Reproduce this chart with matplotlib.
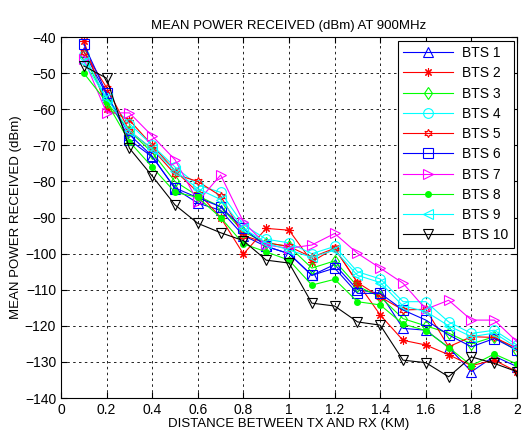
import matplotlib
matplotlib.use("Agg")
import matplotlib.pyplot as plt

plt.rcParams['font.family'] = ['Liberation Sans', 'DejaVu Sans']

distance_km = [0.1, 0.2, 0.3, 0.4, 0.5, 0.6, 0.7, 0.8, 0.9, 1.0,
               1.1, 1.2, 1.3, 1.4, 1.5, 1.6, 1.7, 1.8, 1.9, 2.0]

bts1 = [-44, -56, -67, -73, -82, -86, -88, -95, -98, -100,
        -106, -103, -110, -111, -120.7, -121.2, -126, -132.7, -128.4, -131.3]
bts2 = [-41, -60, -63, -70, -77, -83, -90, -100.1, -93, -93.5,
        -102.2, -98.5, -108, -117, -124, -125.3, -128, -131, -129.5, -132.7]
bts3 = [-45, -58, -66, -72, -80, -84, -87, -94, -97, -98,
        -104, -102, -109, -112, -118, -120, -122, -125, -123, -127]
bts4 = [-45, -57, -64, -70, -76, -81, -83, -92, -96, -97,
        -100, -98, -105, -107, -113.3, -113.3, -118.9, -122.1, -121.2, -125.3]
bts5 = [-44, -54, -66, -71, -78, -80, -84, -95, -97, -98,
        -101, -98.5, -108, -112, -115.6, -115.4, -125.8, -123, -123.2, -126.2]
bts6 = [-42, -55.6, -68.5, -73.2, -81.8, -84.5, -87, -93, -98, -100,
        -106, -104, -111, -111, -115.6, -118.4, -122.5, -125.8, -123.5, -126.7]
bts7 = [-46, -61, -61, -67.4, -74, -85.6, -78.2, -91.2, -97.6, -98.5,
        -97.6, -94.4, -99.9, -104, -108.2, -115.4, -112.9, -118.4, -118.4, -124.4]
bts8 = [-50, -58, -69, -76, -83, -84.4, -90, -97.3, -99.5, -101.8,
        -108.7, -107.1, -113.3, -114.2, -119.5, -121.3, -126, -131, -127.8, -130.6]
bts9 = [-47, -57, -66, -71, -77, -82, -85, -93, -97, -99,
        -101, -99, -106, -108, -114.5, -116, -120, -123, -122, -126]
bts10 = [-48, -51.4, -70.8, -78.5, -86.5, -91.6, -94.2, -96.4, -101.8, -102.6,
         -113.7, -114.5, -118.9, -119.8, -129.5, -130.2, -134.1, -128.6, -130.4, -132.7]

series_labels = ['BTS 1', 'BTS 2', 'BTS 3', 'BTS 4', 'BTS 5',
                 'BTS 6', 'BTS 7', 'BTS 8', 'BTS 9', 'BTS 10']
series_values = [bts1, bts2, bts3, bts4, bts5, bts6, bts7, bts8, bts9, bts10]
colors = ['#0000ff', '#ff0000', '#00ff00', '#00ffff', '#ff0000',
          '#0000ff', '#ff00ff', '#00ff00', '#00ffff', '#000000']
markers = ['^', (8, 2, 0), 'd', 'o', (6, 1, 0), 's', '>', '.', '<', 'v']
sizes = [7, 6, 6.5, 7, 6, 7, 7, 4, 7, 7]

x_ticks = [0, 0.2, 0.4, 0.6, 0.8, 1, 1.2, 1.4, 1.6, 1.8, 2]
x_tick_labels = ['0', '0.2', '0.4', '0.6', '0.8', '1', '1.2', '1.4', '1.6', '1.8', '2']
y_ticks = list(range(-140, -39, 10))

fig = plt.figure(figsize=(5.26, 4.36), dpi=100)
ax = fig.add_axes([0.116, 0.087, 0.867, 0.828])

for vals, lab, c, m, ms in zip(series_values, series_labels, colors, markers, sizes):
    if m == '.':
        ax.plot(distance_km, vals, color=c, marker='o', markersize=ms,
                markerfacecolor=c, markeredgecolor=c, linewidth=0.8, label=lab)
    else:
        ax.plot(distance_km, vals, color=c, marker=m, markersize=ms,
                markerfacecolor='none', markeredgecolor=c, markeredgewidth=0.8,
                linewidth=0.8, label=lab)

ax.set_xlim(0, 2)
ax.set_ylim(-140, -40)
ax.set_xticks(x_ticks)
ax.set_xticklabels(x_tick_labels)
ax.set_yticks(y_ticks)
ax.grid(True, color='black', linestyle=(0, (3, 4)), linewidth=0.6)
ax.tick_params(direction='in', length=4, labelsize=10, colors='black', top=True, right=True)
for sp in ax.spines.values():
    sp.set_linewidth(0.8)

ax.set_title('MEAN POWER RECEIVED (dBm) AT 900MHz', fontsize=9.5, pad=6)
ax.set_xlabel('DISTANCE BETWEEN TX AND RX (KM)', fontsize=9.5, labelpad=1)
ax.set_ylabel('MEAN POWER RECEIVED (dBm)', fontsize=9.5, labelpad=2)

leg = ax.legend(loc='upper right', fontsize=10, frameon=True, fancybox=False,
                edgecolor='black', framealpha=1, handlelength=3.6,
                borderpad=0.4, labelspacing=0.45, borderaxespad=0.25,
                handletextpad=0.6)
leg.get_frame().set_linewidth(0.8)

fig.savefig('out.png', dpi=100)
